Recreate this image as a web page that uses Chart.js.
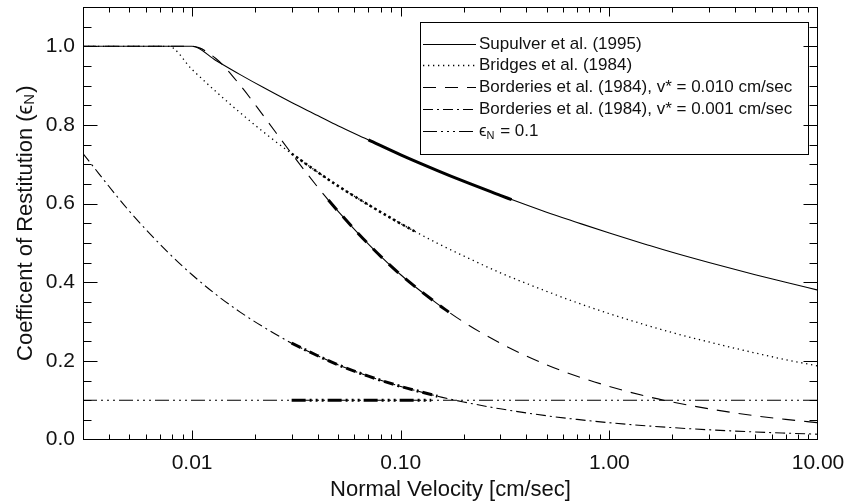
<!DOCTYPE html>
<html><head><meta charset="utf-8">
<script src="https://cdn.jsdelivr.net/npm/chart.js@4"></script>
<style>html,body{margin:0;padding:0;background:#fff;}#wrap{width:849px;height:503px;}</style>
</head><body><div id="wrap"><canvas id="c" width="849" height="503"></canvas></div>
<script>
// ---- data ----
const velocity = [0.003, 0.005, 0.0077, 0.01, 0.013, 0.017, 0.022, 0.03, 0.04, 0.05, 0.07, 0.1, 0.15, 0.2, 0.3, 0.5, 0.7, 1, 1.5, 2, 3, 5, 7, 10];
const supulver = [1, 1, 1, 1, 0.964, 0.928, 0.895, 0.857, 0.824, 0.798, 0.762, 0.724, 0.684, 0.657, 0.621, 0.578, 0.552, 0.525, 0.496, 0.476, 0.450, 0.419, 0.400, 0.380];
const bridges = [1, 1, 1, 0.941, 0.885, 0.831, 0.782, 0.727, 0.680, 0.645, 0.597, 0.549, 0.499, 0.467, 0.424, 0.377, 0.348, 0.320, 0.291, 0.272, 0.248, 0.220, 0.203, 0.187];
const borderies010 = [1, 1, 1, 1, 0.969, 0.901, 0.823, 0.727, 0.642, 0.581, 0.497, 0.419, 0.345, 0.299, 0.245, 0.190, 0.161, 0.135, 0.110, 0.0955, 0.078, 0.0604, 0.0511, 0.0427];
const borderies001 = [0.727, 0.581, 0.475, 0.419, 0.369, 0.324, 0.286, 0.245, 0.213, 0.190, 0.161, 0.135, 0.110, 0.0955, 0.078, 0.0604, 0.0511, 0.0427, 0.0349, 0.0302, 0.0247, 0.0191, 0.0162, 0.0135];
const epsVelocity = [0.003, 10];
const epsValues = [0.1, 0.1];

// heavier overplotted stretches
const thickSupulverV = [0.07, 0.1, 0.15, 0.2, 0.3, 0.34];
const thickSupulverY = [0.762, 0.724, 0.684, 0.657, 0.621, 0.610];
const thickBridgesV = [0.03, 0.04, 0.05, 0.07, 0.1, 0.12];
const thickBridgesY = [0.727, 0.680, 0.645, 0.597, 0.549, 0.526];
const thickB010V = [0.045, 0.05, 0.07, 0.1, 0.15, 0.17];
const thickB010Y = [0.609, 0.581, 0.497, 0.419, 0.345, 0.324];
const thickB001V = [0.03, 0.04, 0.05, 0.07, 0.1, 0.15];
const thickB001Y = [0.245, 0.213, 0.190, 0.161, 0.135, 0.110];
const thickEpsV = [0.03, 0.14];
const thickEpsY = [0.1, 0.1];

const seriesLabels = ['Supulver et al. (1995)', 'Bridges et al. (1984)', 'Borderies et al. (1984), v* = 0.010 cm/sec', 'Borderies et al. (1984), v* = 0.001 cm/sec', 'ϵ|N| = 0.1'];
const xTickValues = [0.01, 0.1, 1, 10];
const xTickLabels = ['0.01', '0.10', '1.00', '10.00'];
const yTickValues = [0, 0.2, 0.4, 0.6, 0.8, 1.0];
const yTickLabels = ['0.0', '0.2', '0.4', '0.6', '0.8', '1.0'];
const xTitle = 'Normal Velocity [cm/sec]';
const yTitle = ['Coefficent of Restitution (ϵ', 'N', ')'];

// ---- styling ----
const FONT = "'Liberation Sans', Arial, sans-serif";
const TXT = '#111';
const styles = [
  {borderDash: []},
  {borderDash: [1.3, 3.7]},
  {borderDash: [13, 9]},
  {borderDash: [10, 4, 2, 4]},
  {borderDash: [14, 4, 2, 4, 2, 4, 2, 4]}
];
const pts = (vs, ys) => vs.map((v, i) => ({x: v, y: ys[i]}));
function ds(label, data, style, width, inLegend) {
  return {label, data, borderColor: '#000', backgroundColor: '#000', borderWidth: width,
    borderDash: style.borderDash, borderCapStyle: 'butt', pointRadius: 0, showLine: true,
    fill: false, cubicInterpolationMode: 'monotone', inLegend};
}
const datasets = [
  ds(seriesLabels[0], pts(velocity, supulver), styles[0], 1.1, true),
  ds(seriesLabels[1], pts(velocity, bridges), styles[1], 1.3, true),
  ds(seriesLabels[2], pts(velocity, borderies010), styles[2], 1.1, true),
  ds(seriesLabels[3], pts(velocity, borderies001), styles[3], 1.1, true),
  ds(seriesLabels[4], pts(epsVelocity, epsValues), styles[4], 1.1, true),
  ds('', pts(thickSupulverV, thickSupulverY), styles[0], 3, false),
  ds('', pts(thickBridgesV, thickBridgesY), {borderDash: [2.5, 3]}, 2.5, false),
  ds('', pts(thickB010V, thickB010Y), styles[2], 3, false),
  ds('', pts(thickB001V, thickB001Y), styles[3], 3, false),
  ds('', pts(thickEpsV, thickEpsY), styles[4], 3, false)
];

const idlFrame = {
  id: 'idlFrame',
  afterDatasetsDraw(chart) {
    const {ctx, chartArea: a} = chart;
    const x = chart.scales.x, y = chart.scales.y;
    const L = Math.round(a.left) + 0.5, R = Math.round(a.right) - 0.5;
    const T = Math.round(a.top) + 0.5, B = Math.round(a.bottom) - 0.5;
    ctx.save();
    ctx.strokeStyle = '#000'; ctx.lineWidth = 1; ctx.setLineDash([]);
    ctx.strokeRect(L, T, R - L, B - T);
    ctx.beginPath();
    for (let d = -3; d <= 0; d++) {
      for (let m = 1; m <= 9; m++) {
        const v = m * Math.pow(10, d);
        if (v <= x.min * 1.0001 || v > x.max * 1.0001) continue;
        const major = m === 1;
        const len = major ? 9 : 5;
        const px = Math.round(x.getPixelForValue(v)) + 0.5;
        ctx.moveTo(px, B); ctx.lineTo(px, B - len);
        ctx.moveTo(px, T); ctx.lineTo(px, T + len);
      }
    }
    for (let k = 1; k <= 21; k++) {
      const v = k * 0.05;
      const major = k % 4 === 0;
      const len = major ? 14 : 8;
      const py = Math.round(y.getPixelForValue(v)) + 0.5;
      ctx.moveTo(L, py); ctx.lineTo(L + len, py);
      ctx.moveTo(R, py); ctx.lineTo(R - len, py);
    }
    ctx.stroke();

    // y-axis title with subscript
    ctx.fillStyle = TXT;
    ctx.textBaseline = 'middle';
    const big = "22px " + FONT, small = "15px " + FONT;
    ctx.font = big; const w1 = ctx.measureText(yTitle[0]).width; const w3 = ctx.measureText(yTitle[2]).width;
    ctx.font = small; const w2 = ctx.measureText(yTitle[1]).width;
    const tot = w1 + w2 + w3 + 1;
    ctx.save();
    ctx.translate(26, (a.top + a.bottom) / 2);
    ctx.rotate(-Math.PI / 2);
    ctx.textAlign = 'left';
    ctx.font = big; ctx.fillText(yTitle[0], -tot / 2, 0);
    ctx.font = small; ctx.fillText(yTitle[1], -tot / 2 + w1, 4);
    ctx.font = big; ctx.fillText(yTitle[2], -tot / 2 + w1 + w2 + 1, 0);
    ctx.restore();

    // legend
    const bx = 420.5, by = 22.5, bw = 388, bh = 132;
    ctx.lineWidth = 1; ctx.setLineDash([]);
    ctx.strokeRect(bx, by, bw, bh);
    const legendSets = chart.data.datasets.filter(d => d.inLegend);
    legendSets.forEach((d, i) => {
      const ry = Math.round(by + 21 + i * 21.8) + 0.5;
      ctx.beginPath();
      ctx.setLineDash(d.borderDash);
      ctx.lineWidth = d.borderWidth;
      ctx.moveTo(423, ry); ctx.lineTo(476, ry);
      ctx.stroke();
      ctx.setLineDash([]);
      ctx.textAlign = 'left'; ctx.textBaseline = 'middle';
      const parts = d.label.split('|');
      let tx = 479;
      parts.forEach((p, j) => {
        const sub = j % 2 === 1;
        ctx.font = (sub ? '11px ' : '17px ') + FONT;
        ctx.fillText(p, tx, ry + (sub ? 4 : 0));
        tx += ctx.measureText(p).width + (sub ? 1 : 0);
      });
    });
    ctx.restore();
  }
};

new Chart(document.getElementById('c'), {
  type: 'scatter',
  data: {datasets},
  options: {
    responsive: false, animation: false, devicePixelRatio: 1,
    layout: {padding: {top: 7, right: 31, left: 0, bottom: 0}},
    plugins: {legend: {display: false}, tooltip: {enabled: false}},
    scales: {
      x: {
        type: 'logarithmic', min: 0.003, max: 10,
        afterFit(s) { s.height = 63.5; s.paddingLeft = 0; s.paddingRight = 0; },
        afterBuildTicks(s) { s.ticks = xTickValues.map(v => ({value: v})); },
        grid: {display: false, drawTicks: false}, border: {display: false},
        ticks: {autoSkip: false, maxRotation: 0, padding: 11, color: TXT,
          font: {family: FONT, size: 21},
          callback: (v) => { const i = xTickValues.findIndex(t => Math.abs(t - v) / t < 1e-6); return i >= 0 ? xTickLabels[i] : ''; }},
        title: {display: true, text: xTitle, color: TXT, font: {family: FONT, size: 22}, padding: {top: 0, bottom: 0}}
      },
      y: {
        type: 'linear', min: 0, max: 1.1,
        afterFit(s) { s.width = 83; s.paddingTop = 0; s.paddingBottom = 0; },
        afterBuildTicks(s) { s.ticks = yTickValues.map(v => ({value: v})); },
        grid: {display: false, drawTicks: false}, border: {display: false},
        ticks: {autoSkip: false, padding: 8, color: TXT,
          font: {family: FONT, size: 21},
          callback: (v) => { const i = yTickValues.findIndex(t => Math.abs(t - v) < 1e-6); return i >= 0 ? yTickLabels[i] : ''; }},
        title: {display: false}
      }
    }
  },
  plugins: [idlFrame]
});
</script></body></html>
